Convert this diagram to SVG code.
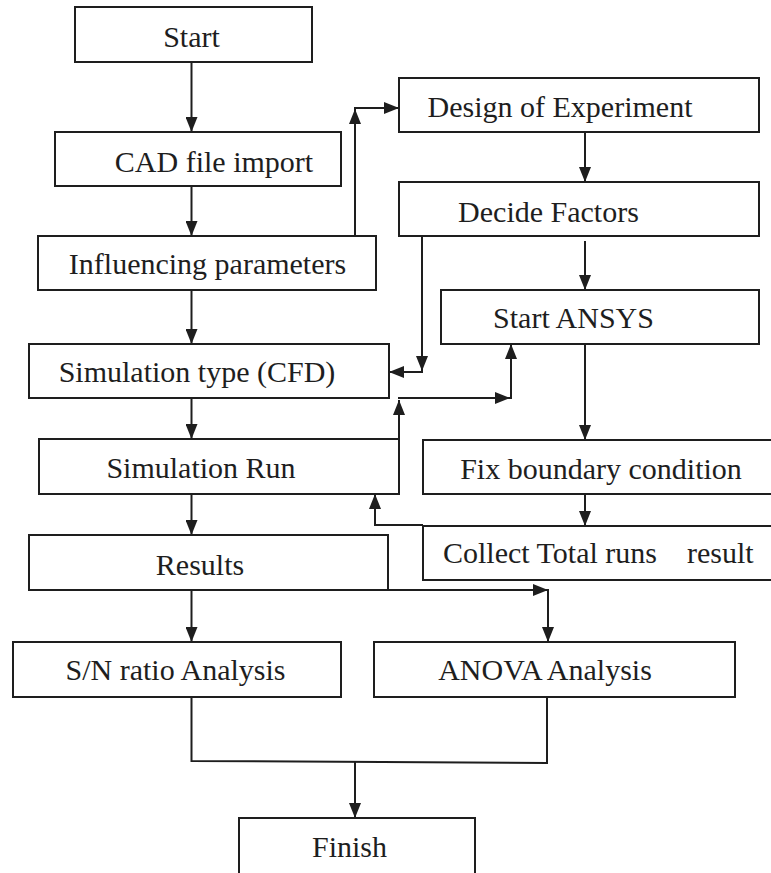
<svg xmlns="http://www.w3.org/2000/svg" width="771" height="873" viewBox="0 0 771 873">
<style>
.box{fill:#fff;stroke:#1e1e1e;stroke-width:2}
.lbl{font-family:"Liberation Serif","Times New Roman",serif;font-size:30px;fill:#1e1e1e;text-anchor:middle}
.ln{fill:none;stroke:#1e1e1e;stroke-width:2}
.ar{fill:none;stroke:#1e1e1e;stroke-width:2;marker-end:url(#ah)}
</style>
<defs>
<marker id="ah" markerUnits="userSpaceOnUse" markerWidth="15" markerHeight="12" refX="15" refY="6" orient="auto">
<path d="M0,0 L15,6 L0,12 z" fill="#1e1e1e"/>
</marker>
</defs>
<rect width="771" height="873" fill="#fff"/>
<g id="connectors">
<line class="ar" x1="191.5" y1="62" x2="191.5" y2="132"/>
<line class="ar" x1="191.5" y1="186" x2="191.5" y2="236"/>
<line class="ar" x1="191.5" y1="290" x2="191.5" y2="344"/>
<line class="ar" x1="191.5" y1="398" x2="191.5" y2="439"/>
<line class="ar" x1="191.5" y1="494" x2="191.5" y2="535"/>
<line class="ar" x1="191.5" y1="590" x2="191.5" y2="642"/>
<line class="ar" x1="355" y1="236" x2="355" y2="109"/>
<line class="ar" x1="354" y1="108" x2="399" y2="108"/>
<line class="ar" x1="585" y1="132" x2="585" y2="182"/>
<line class="ar" x1="585" y1="241" x2="585" y2="290"/>
<line class="ar" x1="585" y1="344" x2="585" y2="440"/>
<line class="ar" x1="585" y1="494" x2="585" y2="526"/>
<line class="ar" x1="422" y1="236" x2="422" y2="371"/>
<line class="ar" x1="423" y1="372" x2="389" y2="372"/>
<line class="ar" x1="399" y1="439" x2="399" y2="400"/>
<line class="ar" x1="398" y1="398" x2="510" y2="398"/>
<line class="ar" x1="511" y1="399" x2="511" y2="344"/>
<polyline class="ar" points="423,525 375,525 375,494"/>
<line class="ar" x1="388" y1="590" x2="548" y2="590"/>
<line class="ar" x1="548" y1="589" x2="548" y2="642"/>
<polyline class="ln" points="191.5,697 191.5,761 547,763 547,697"/>
<line class="ar" x1="355" y1="761" x2="355" y2="818"/>
</g>
<g id="n-start"><rect class="box" x="75" y="7" width="237" height="55"/><text class="lbl" x="191.5" y="47">Start</text></g>
<g id="n-cad"><rect class="box" x="55" y="132" width="286" height="54"/><text class="lbl" x="214" y="172">CAD file import</text></g>
<g id="n-infl"><rect class="box" x="38" y="236" width="338" height="54"/><text class="lbl" x="207.5" y="274">Influencing parameters</text></g>
<g id="n-doe"><rect class="box" x="399" y="78" width="360" height="54"/><text class="lbl" x="560" y="117">Design of Experiment</text></g>
<g id="n-decide"><rect class="box" x="399" y="182" width="360" height="54"/><text class="lbl" x="548.5" y="222">Decide Factors</text></g>
<g id="n-ansys"><rect class="box" x="441" y="290" width="318" height="54"/><text class="lbl" x="573.5" y="328">Start ANSYS</text></g>
<g id="n-simtype"><rect class="box" x="29" y="344" width="360" height="54"/><text class="lbl" x="197" y="382">Simulation type (CFD)</text></g>
<g id="n-simrun"><rect class="box" x="39" y="439" width="360" height="55"/><text class="lbl" x="201" y="478">Simulation Run</text></g>
<g id="n-results"><rect class="box" x="29" y="535" width="359" height="55"/><text class="lbl" x="200" y="575">Results</text></g>
<g id="n-fix"><rect class="box" x="423" y="440" width="360" height="54"/><text class="lbl" x="601" y="479">Fix boundary condition</text></g>
<g id="n-collect"><rect class="box" x="423" y="526" width="360" height="54"/><text class="lbl" style="text-anchor:start" x="443" y="563">Collect Total runs<tspan x="687">result</tspan></text></g>
<g id="n-sn"><rect class="box" x="13" y="642" width="328" height="55"/><text class="lbl" x="175.5" y="680">S/N ratio Analysis</text></g>
<g id="n-anova"><rect class="box" x="374" y="642" width="361" height="55"/><text class="lbl" x="545" y="680">ANOVA Analysis</text></g>
<g id="n-finish"><rect class="box" x="239" y="818" width="236" height="70"/><text class="lbl" x="349.5" y="857">Finish</text></g>
</svg>
